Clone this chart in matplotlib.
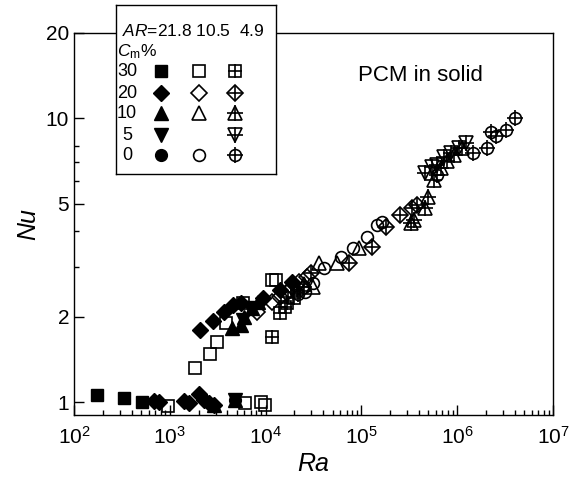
import matplotlib
matplotlib.use("Agg")
import matplotlib.pyplot as plt
from matplotlib.ticker import FixedLocator, NullFormatter, LogLocator

plt.rcParams["font.family"] = ["Liberation Sans", "DejaVu Sans"]
plt.rcParams["mathtext.fontset"] = "custom"
plt.rcParams["mathtext.rm"] = "Liberation Sans"
plt.rcParams["mathtext.it"] = "Liberation Sans:italic"
plt.rcParams["mathtext.bf"] = "Liberation Sans:bold"

# AR = 21.8 (filled symbols)
ar21_c30_ra = [174, 331, 510]
ar21_c30_nu = [1.06, 1.03, 1.00]
ar21_c20_ra = [680, 770, 1400, 1600, 2000, 2300, 2560, 2880,
               2090, 2800, 3720, 4530, 5600, 9300, 14000, 19000]
ar21_c20_nu = [1.01, 1.00, 1.01, 0.99, 1.07, 1.02, 0.99, 0.98,
               1.80, 1.93, 2.08, 2.20, 2.24, 2.33, 2.48, 2.65]
ar21_c10_ra = [2900, 4760, 4500, 5600, 6000, 7200, 8300]
ar21_c10_nu = [0.98, 1.02, 1.82, 1.87, 2.00, 2.15, 2.25]
ar21_c5_ra = [4760, 5800, 6800]
ar21_c5_nu = [1.02, 1.95, 2.15]
ar21_c0_ra = [4760]
ar21_c0_nu = [1.02]

# AR = 10.5 (open symbols)
ar10_c30_ra = [955, 6150, 8900, 9800, 1820, 2600, 3100, 3900, 5800, 11600, 12800]
ar10_c30_nu = [0.97, 0.99, 1.00, 0.98, 1.32, 1.48, 1.63, 1.90, 2.24, 2.69, 2.69]
ar10_c20_ra = [8100, 11800, 14000, 16600, 19000, 22400, 27000]
ar10_c20_nu = [2.08, 2.25, 2.35, 2.42, 2.54, 2.65, 2.75]
ar10_c10_ra = [25000, 31000, 36000, 55000, 95000]
ar10_c10_nu = [2.60, 2.54, 3.09, 3.10, 3.50]
ar10_c0_ra = [26000, 31000, 41000, 61000, 81000, 115000, 147000, 165000]
ar10_c0_nu = [2.45, 2.63, 2.97, 3.25, 3.50, 3.82, 4.20, 4.30]

# AR = 4.9 (crossed symbols)
ar4_c30_ra = [11800, 14000, 15800, 16600, 20000, 21500]
ar4_c30_nu = [1.69, 2.06, 2.16, 2.23, 2.33, 2.48]
ar4_c20_ra = [30000, 75000, 129000, 182000, 250000, 340000, 380000]
ar4_c20_nu = [2.85, 3.09, 3.52, 4.14, 4.57, 4.83, 4.95]
ar4_c10_ra = [330000, 350000, 457000, 490000, 575000, 676000, 790000, 930000, 1120000]
ar4_c10_nu = [4.28, 4.40, 4.83, 5.28, 6.05, 6.70, 7.10, 7.45, 7.87]
ar4_c5_ra = [457000, 540000, 620000, 730000, 860000, 1050000, 1240000]
ar4_c5_nu = [6.42, 6.75, 6.85, 7.30, 7.55, 7.87, 8.20]
ar4_c0_ra = [22000, 25000, 620000, 1450000, 2050000, 2240000, 2550000, 3200000, 4000000]
ar4_c0_nu = [2.40, 2.55, 6.30, 7.55, 7.87, 8.95, 8.70, 9.10, 10.0]

# legend table
ar_labels = ["21.8", "10.5", "4.9"]
cm_rows = ["30", "20", "10", "5", "0"]
row_shapes = ["s", "D", "^", "v", "o"]
styles = ["filled", "open", "crossed"]

SIZES = {"s": 8, "D": 8.3, "^": 10.5, "v": 10.5, "o": 8.5}
PLUS = {"s": 1.25, "D": 1.45, "^": 1.15, "v": 1.15, "o": 1.3}


def draw(ax, x, y, shape, style, scale=1.0, **kw):
    ms = SIZES[shape] * scale
    if style == "filled":
        ax.plot(x, y, ls="none", marker=shape, ms=ms, mfc="black",
                mec="black", **kw)
        return
    ax.plot(x, y, ls="none", marker=shape, ms=ms, mfc="none", mec="black",
            mew=1.2, **kw)
    if style == "crossed":
        ax.plot(x, y, ls="none", marker="+", ms=ms * PLUS[shape], mec="black",
                mew=1.2, **kw)


series = [
    (ar21_c30_ra, ar21_c30_nu, "s", "filled"),
    (ar21_c20_ra, ar21_c20_nu, "D", "filled"),
    (ar21_c10_ra, ar21_c10_nu, "^", "filled"),
    (ar21_c5_ra, ar21_c5_nu, "v", "filled"),
    (ar21_c0_ra, ar21_c0_nu, "o", "filled"),
    (ar10_c30_ra, ar10_c30_nu, "s", "open"),
    (ar10_c20_ra, ar10_c20_nu, "D", "open"),
    (ar10_c10_ra, ar10_c10_nu, "^", "open"),
    (ar10_c0_ra, ar10_c0_nu, "o", "open"),
    (ar4_c30_ra, ar4_c30_nu, "s", "crossed"),
    (ar4_c20_ra, ar4_c20_nu, "D", "crossed"),
    (ar4_c10_ra, ar4_c10_nu, "^", "crossed"),
    (ar4_c5_ra, ar4_c5_nu, "v", "crossed"),
    (ar4_c0_ra, ar4_c0_nu, "o", "crossed"),
]

fig = plt.figure(figsize=(5.8, 4.78), dpi=100)
ax = fig.add_axes([0.1276, 0.1318, 0.8258, 0.7992])
for ra, nu, shape, style in series:
    draw(ax, ra, nu, shape, style, clip_on=False)

ax.set_xscale("log")
ax.set_yscale("log")
ax.set_xlim(100, 1e7)
ax.set_ylim(0.9, 20)
ax.xaxis.set_major_locator(LogLocator(base=10))
ax.xaxis.set_minor_locator(LogLocator(base=10, subs=range(2, 10)))
ax.xaxis.set_minor_formatter(NullFormatter())
ax.yaxis.set_major_locator(FixedLocator([1, 2, 5, 10, 20]))
ax.yaxis.set_major_formatter(plt.FixedFormatter(["1", "2", "5", "10", "20"]))
ax.yaxis.set_minor_locator(FixedLocator([3, 4, 6, 7, 8]))
ax.yaxis.set_minor_formatter(NullFormatter())
ax.tick_params(which="both", direction="in", top=False, right=False,
               labelsize=15, width=1)
ax.tick_params(which="major", length=7)
ax.tick_params(which="minor", length=3.5)
ax.tick_params(axis="x", which="major", pad=8)
for sp in ax.spines.values():
    sp.set_linewidth(1.0)

ax.set_xlabel("Ra", fontsize=18, style="italic", labelpad=3)
ax.set_ylabel("Nu", fontsize=18, style="italic", labelpad=4)
ax.text(0.593, 0.875, "PCM in solid", transform=ax.transAxes, fontsize=16,
        va="baseline", ha="left")

# legend box drawn in pixel-like coordinates
lax = fig.add_axes([116 / 580, 1 - 174 / 478, 160 / 580, 169 / 478])
lax.set_zorder(5)
lax.set_facecolor("white")
lax.set_xlim(116, 276)
lax.set_ylim(174, 5)
lax.set_xticks([])
lax.set_yticks([])
for sp in lax.spines.values():
    sp.set_linewidth(1.0)

lax.text(122, 31, "$AR$=" + ar_labels[0] + " " + ar_labels[1] + "  " + ar_labels[2],
         fontsize=12.5, va="center", ha="left")
lax.text(117, 52, r"$C_{\mathrm{m}}$%", fontsize=12.5, va="center", ha="left")
col_x = [161, 199, 235]
row_y = [71, 93, 113, 135, 155]
for label, shape, yy in zip(cm_rows, row_shapes, row_y):
    lax.text(127, yy, label, fontsize=13, va="center", ha="center")
    for style, xx in zip(styles, col_x):
        if label == "5" and style == "open":
            continue
        draw(lax, [xx], [yy], shape, style, clip_on=False)

fig.savefig("out.png", dpi=100)
